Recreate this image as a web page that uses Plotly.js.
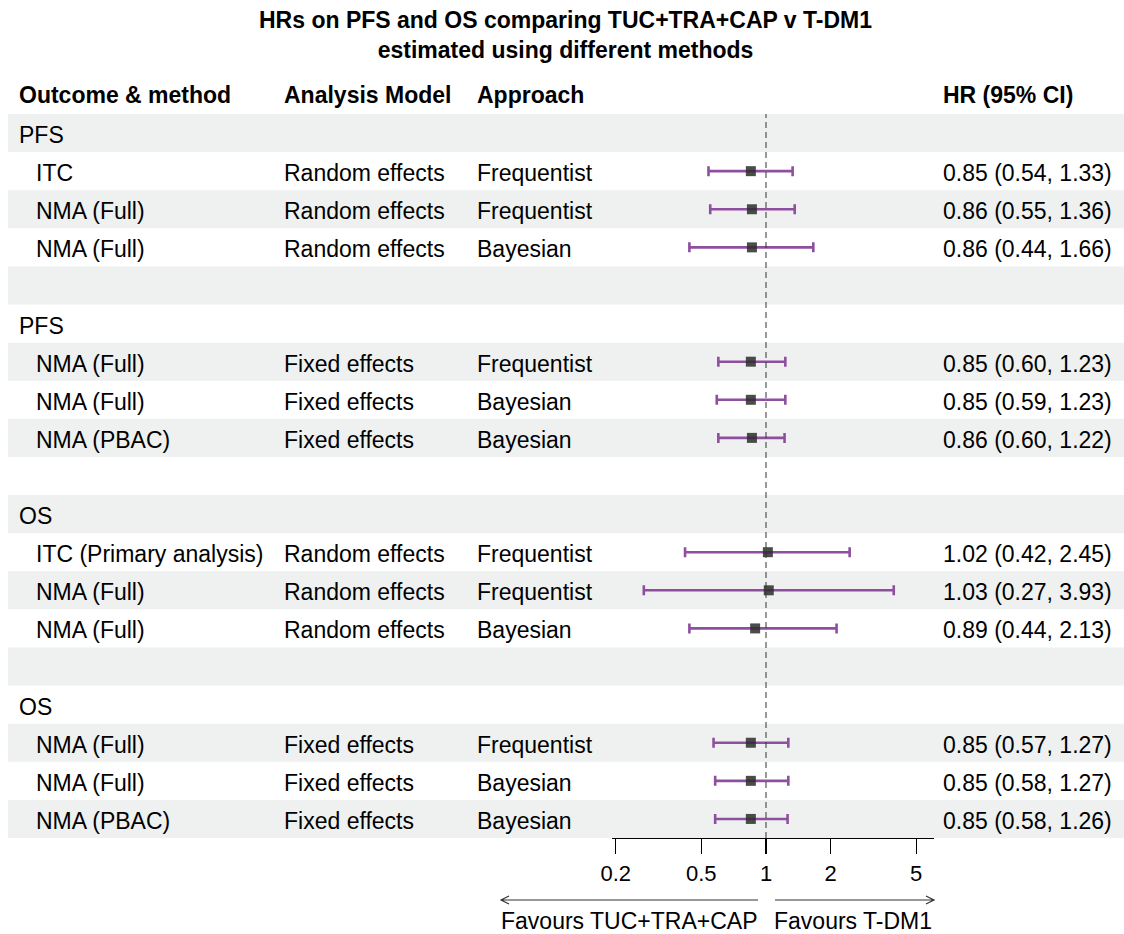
<!DOCTYPE html>
<html>
<head>
<meta charset="utf-8">
<script src="https://cdn.plot.ly/plotly-3.0.1.min.js"></script>
<style>html,body{margin:0;padding:0;background:#fff;}#chart{width:1124px;height:934px;}</style>
</head>
<body>
<div id="chart"></div>
<script>
// ---- data ----
const rowLabels = ["PFS","ITC","NMA (Full)","NMA (Full)","","PFS","NMA (Full)","NMA (Full)","NMA (PBAC)","","OS","ITC (Primary analysis)","NMA (Full)","NMA (Full)","","OS","NMA (Full)","NMA (Full)","NMA (PBAC)"];
const groupRow = [true,false,false,false,false,true,false,false,false,false,true,false,false,false,false,true,false,false,false];
const models = ["","Random effects","Random effects","Random effects","","","Fixed effects","Fixed effects","Fixed effects","","","Random effects","Random effects","Random effects","","","Fixed effects","Fixed effects","Fixed effects"];
const approaches = ["","Frequentist","Frequentist","Bayesian","","","Frequentist","Bayesian","Bayesian","","","Frequentist","Frequentist","Bayesian","","","Frequentist","Bayesian","Bayesian"];
const hr    = [null,0.85,0.86,0.86,null,null,0.85,0.85,0.86,null,null,1.02,1.03,0.89,null,null,0.85,0.85,0.85];
const lower = [null,0.54,0.55,0.44,null,null,0.60,0.59,0.60,null,null,0.42,0.27,0.44,null,null,0.57,0.58,0.58];
const upper = [null,1.33,1.36,1.66,null,null,1.23,1.23,1.22,null,null,2.45,3.93,2.13,null,null,1.27,1.27,1.26];
const tickVals = [0.2,0.5,1,2,5];
const tickText = ["0.2","0.5","1","2","5"];
const headers = ["Outcome & method","Analysis Model","Approach","HR (95% CI)"];
const titleText = "HRs on PFS and OS comparing TUC+TRA+CAP v T-DM1<br>estimated using different methods";
const favLeft = "Favours TUC+TRA+CAP";
const favRight = "Favours T-DM1";

// ---- layout geometry (pixels) ----
const W = 1124, H = 934;
const plotTop = 114, plotBot = 838;
const FONT = "Liberation Sans, Arial, sans-serif";
const FS = 23;
const PADX = 3;
const X = px => px / W;
const Y = py => (plotBot - py) / (plotBot - plotTop);

const rows = rowLabels.map((_, i) => i);
const fmt = v => v.toFixed(2);
const hrText = hr.map((v, i) => v === null ? "" : fmt(v) + " (" + fmt(lower[i]) + ", " + fmt(upper[i]) + ")");

const xs = [], ys = [], ep = [], em = [];
rows.forEach(i => {
  if (hr[i] !== null) {
    xs.push(hr[i]); ys.push(i);
    ep.push(upper[i] - hr[i]); em.push(hr[i] - lower[i]);
  }
});

const trace = {
  type: "scatter", mode: "markers", x: xs, y: ys,
  marker: {symbol: "square", size: 10, color: "rgba(45,45,45,0.85)", line: {width: 0}},
  error_x: {type: "data", symmetric: false, array: ep, arrayminus: em,
            color: "#8f4f9f", thickness: 2.6, width: 5},
  hoverinfo: "skip", showlegend: false, cliponaxis: false
};

const shapes = [];
rows.forEach(i => {
  if (i % 2 === 0) {
    shapes.push({type: "rect", xref: "paper", yref: "y", x0: X(8), x1: 1, y0: i - 0.5, y1: i + 0.5,
                 fillcolor: "#eef1f0", line: {width: 0}, layer: "below"});
  }
});
shapes.push({type: "line", xref: "x", yref: "paper", x0: 1, x1: 1, y0: 0, y1: 1,
             line: {color: "#333", width: 1, dash: "6px,4px"}});
const ay = 900;
shapes.push({type: "path", xref: "paper", yref: "paper",
  path: `M ${X(758)},${Y(ay)} L ${X(501)},${Y(ay)} M ${X(509)},${Y(ay-4)} L ${X(501)},${Y(ay)} L ${X(509)},${Y(ay+4)}`,
  line: {color: "#333", width: 1.2}});
shapes.push({type: "path", xref: "paper", yref: "paper",
  path: `M ${X(775)},${Y(ay)} L ${X(934)},${Y(ay)} M ${X(926)},${Y(ay-4)} L ${X(934)},${Y(ay)} L ${X(926)},${Y(ay+4)}`,
  line: {color: "#333", width: 1.2}});

const ann = [];
ann.push({xref: "paper", yref: "paper", x: X(565), y: Y(5), xanchor: "center", yanchor: "top",
          text: "<b>" + titleText + "</b>", showarrow: false, align: "center",
          font: {family: FONT, size: 23, color: "#000"}});
const colX = [20, 285, 478, 944];
headers.forEach((h, k) => {
  ann.push({xref: "paper", yref: "paper", x: X(colX[k] - PADX), y: Y(95), xanchor: "left", yanchor: "middle",
            text: "<b>" + h + "</b>", showarrow: false, font: {family: FONT, size: FS, color: "#000"}});
});
rows.forEach(i => {
  const t = [rowLabels[i], models[i], approaches[i], hrText[i]];
  t.forEach((s, k) => {
    if (!s) return;
    let x = colX[k];
    if (k === 0 && !groupRow[i]) x = 37;
    ann.push({xref: "paper", yref: "y", x: X(x - PADX), y: i, yshift: -2, xanchor: "left", yanchor: "middle",
              text: s, showarrow: false, font: {family: FONT, size: FS, color: "#000"}});
  });
});
ann.push({xref: "paper", yref: "paper", x: X(502 - PADX), y: Y(921), xanchor: "left", yanchor: "middle",
          text: favLeft, showarrow: false, font: {family: FONT, size: FS, color: "#000"}});
ann.push({xref: "paper", yref: "paper", x: X(775 - PADX), y: Y(921), xanchor: "left", yanchor: "middle",
          text: favRight, showarrow: false, font: {family: FONT, size: FS, color: "#000"}});

const layout = {
  width: W, height: H,
  margin: {l: 0, r: 0, t: plotTop, b: H - plotBot, pad: 0},
  paper_bgcolor: "#fff", plot_bgcolor: "rgba(0,0,0,0)",
  xaxis: {type: "log", domain: [X(612), X(934)], range: [Math.log10(0.192), Math.log10(6.05)],
          tickvals: tickVals, ticktext: tickText, ticks: "outside", ticklen: 15, tickwidth: 1.3,
          tickcolor: "#000", showline: true, linecolor: "#000", linewidth: 1.3,
          showgrid: false, zeroline: false, fixedrange: true,
          tickfont: {family: FONT, size: 22, color: "#000"}},
  yaxis: {range: [18.5, -0.5], visible: false, showgrid: false, zeroline: false, fixedrange: true},
  shapes: shapes, annotations: ann, showlegend: false
};

Plotly.newPlot("chart", [trace], layout, {displayModeBar: false, staticPlot: true});
</script>
</body>
</html>
